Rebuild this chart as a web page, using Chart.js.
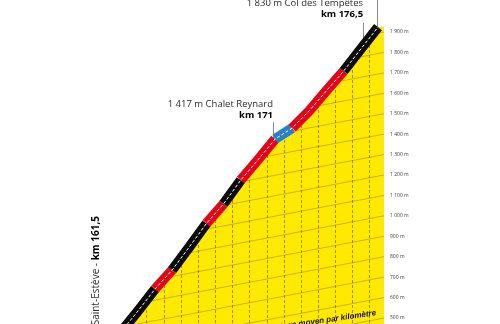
<!DOCTYPE html>
<html><head><meta charset="utf-8">
<script src="https://cdn.jsdelivr.net/npm/chart.js@4.4.0/dist/chart.umd.min.js"></script>
<style>html,body{margin:0;padding:0;background:#fff;overflow:hidden}canvas{display:block}</style>
</head><body>
<canvas id="c" width="500" height="324"></canvas>
<script>
// ---- data ----
const kmPoints   = [161.5,162.5,163.5,164.5,165.5,166.5,167.5,168.5,169.5,170.5,171.5,172.5,173.5,174.5,175.5,176.5];
const elevations = [430,534,642,735,848,963,1059,1175,1274,1376,1430,1515,1613,1709,1817,1924];
const gradeClass = ['black','black','red','black','black','red','black','red','red','blue','red','red','red','black','black'];
const yTickValues = [500,600,700,800,900,1000,1100,1200,1300,1400,1500,1600,1700,1800,1900];
const markerNames   = ['1 830 m Col des Tempêtes','1 417 m Chalet Reynard'];
const markerKmLabels = ['km 176,5','km 171'];
const markerKm      = [175.6,170.35];
const summitKm = 176.45;
const startName = 'Bédoin Saint-Estève - ';
const startKmLabel = 'km 161,5';
const footnote = 'Pourcentage moyen par kilomètre';

// ---- style ----
const X_MIN = 154.46, X_MAX = 176.85, Y_MIN = 470.6, Y_MAX = 2056.6;
const colorMap = {black:'#0b0b0b', red:'#e30519', blue:'#2a80c4'};
const YELLOW = '#ffe900';
const SLANT = 0.19;
const markerLayout = [{nameDy:-43, kmDy:-32.5, lineTopDy:-24},{nameDy:-38, kmDy:-27, lineTopDy:-20}];
const FONT = '"Open Sans", "DejaVu Sans", sans-serif';

const pts = kmPoints.map((k,i)=>({x:k, y:elevations[i]}));
const fillPts = pts.concat([{x:X_MAX, y:elevations[elevations.length-1]}]);

function elevAt(km){
  for(let i=0;i<kmPoints.length-1;i++){
    if(km>=kmPoints[i] && km<=kmPoints[i+1]){
      const t=(km-kmPoints[i])/(kmPoints[i+1]-kmPoints[i]);
      return elevations[i]+t*(elevations[i+1]-elevations[i]);
    }
  }
  return km<kmPoints[0]?elevations[0]:elevations[elevations.length-1];
}
function fmt(v){
  return v>=1000 ? Math.floor(v/1000)+' '+String(v%1000).padStart(3,'0')+' m' : v+' m';
}

const gridPlugin = {
  id:'profileGrid',
  afterDatasetDraw(chart,args){
    if(args.index!==2) return;
    const {ctx, chartArea:a, scales:{x,y}} = chart;
    ctx.save();
    ctx.beginPath(); ctx.rect(a.left,a.top,a.right-a.left,a.bottom-a.top); ctx.clip();
    ctx.globalCompositeOperation='source-atop';
    ctx.strokeStyle='rgba(95,80,0,0.45)'; ctx.lineWidth=0.8;
    yTickValues.forEach(v=>{
      const yr=y.getPixelForValue(v);
      ctx.beginPath(); ctx.moveTo(a.right,yr); ctx.lineTo(a.left,yr+SLANT*(a.right-a.left)); ctx.stroke();
    });
    ctx.strokeStyle='rgba(95,80,0,0.6)'; ctx.lineWidth=1; ctx.setLineDash([3,2]);
    for(let k=Math.ceil(kmPoints[0]); k<=Math.floor(kmPoints[kmPoints.length-1]); k++){
      const xp=Math.round(x.getPixelForValue(k))+0.5;
      ctx.beginPath(); ctx.moveTo(xp,a.top); ctx.lineTo(xp,a.bottom); ctx.stroke();
    }
    ctx.restore();
  }
};

const annoPlugin = {
  id:'annotations',
  beforeDatasetsDraw(chart){
    const {ctx, scales:{x,y}} = chart;
    ctx.save();
    ctx.strokeStyle='#8a8a8a'; ctx.lineWidth=1;
    markerKm.forEach((k,i)=>{
      const xp=Math.round(x.getPixelForValue(k))+0.5, ry=y.getPixelForValue(elevAt(k));
      ctx.beginPath(); ctx.moveTo(xp, ry+markerLayout[i].lineTopDy); ctx.lineTo(xp, ry); ctx.stroke();
    });
    const sx=Math.round(x.getPixelForValue(summitKm))+0.5;
    ctx.beginPath(); ctx.moveTo(sx,0); ctx.lineTo(sx,y.getPixelForValue(elevAt(summitKm))); ctx.stroke();
    ctx.restore();
  },
  afterDraw(chart){
    const {ctx, scales:{x,y}} = chart;
    ctx.save();
    ctx.textBaseline='middle'; ctx.textAlign='right';
    markerKm.forEach((k,i)=>{
      const xp=x.getPixelForValue(k)+0.5, ry=y.getPixelForValue(elevAt(k));
      ctx.font='9.5px '+FONT; ctx.fillStyle='#2b2b2b';
      ctx.fillText(markerNames[i], xp, ry+markerLayout[i].nameDy);
      ctx.font='bold 9.5px '+FONT; ctx.fillStyle='#000';
      ctx.fillText(markerKmLabels[i], xp, ry+markerLayout[i].kmDy);
    });
    // start label (vertical)
    const x0=x.getPixelForValue(kmPoints[0]);
    ctx.save();
    ctx.translate(x0-25, 216);
    ctx.rotate(-Math.PI/2);
    ctx.textAlign='right';
    ctx.font='bold 10px '+FONT; ctx.fillStyle='#000';
    ctx.fillText(startKmLabel,0,0);
    const w=ctx.measureText(startKmLabel).width;
    ctx.font='10px '+FONT; ctx.fillStyle='#2b2b2b';
    ctx.fillText(startName,-w,0);
    ctx.restore();
    // footnote
    ctx.save();
    ctx.translate(376,313);
    ctx.rotate(-0.143);
    ctx.textAlign='right';
    ctx.font='italic bold 8px "Liberation Sans Narrow", "Liberation Sans", sans-serif';
    ctx.fillStyle='#111';
    ctx.fillText(footnote,0,0);
    ctx.restore();
    ctx.restore();
  }
};

new Chart(document.getElementById('c'),{
  type:'line',
  data:{datasets:[
    {data:pts, borderColor:'#ffffff', borderWidth:1, borderDash:[3,2], pointRadius:0, fill:false, order:0, tension:0},
    {data:pts, borderColor:'#0b0b0b', borderWidth:10, borderCapStyle:'butt', pointRadius:0, fill:false, order:1, tension:0,
      segment:{borderColor: c => colorMap[gradeClass[c.p0DataIndex]]}},
    {data:fillPts, borderWidth:0, backgroundColor:YELLOW, fill:'start', pointRadius:0, order:2, tension:0}
  ]},
  options:{
    responsive:false, animation:false, devicePixelRatio:1,
    layout:{padding:0},
    plugins:{legend:{display:false}, tooltip:{enabled:false}},
    scales:{
      x:{type:'linear', min:X_MIN, max:X_MAX, display:false},
      y:{position:'right', min:Y_MIN, max:Y_MAX,
        grid:{display:false, drawTicks:false}, border:{display:false},
        ticks:{padding:6, color:'#3a3a3a', font:{size:5, family:FONT}, callback:v=>fmt(v)},
        afterBuildTicks:s=>{s.ticks=yTickValues.map(v=>({value:v}));},
        afterFit:s=>{s.width=116; s.paddingTop=0; s.paddingBottom=0;}
      }
    }
  },
  plugins:[gridPlugin, annoPlugin]
});
</script>
</body></html>
